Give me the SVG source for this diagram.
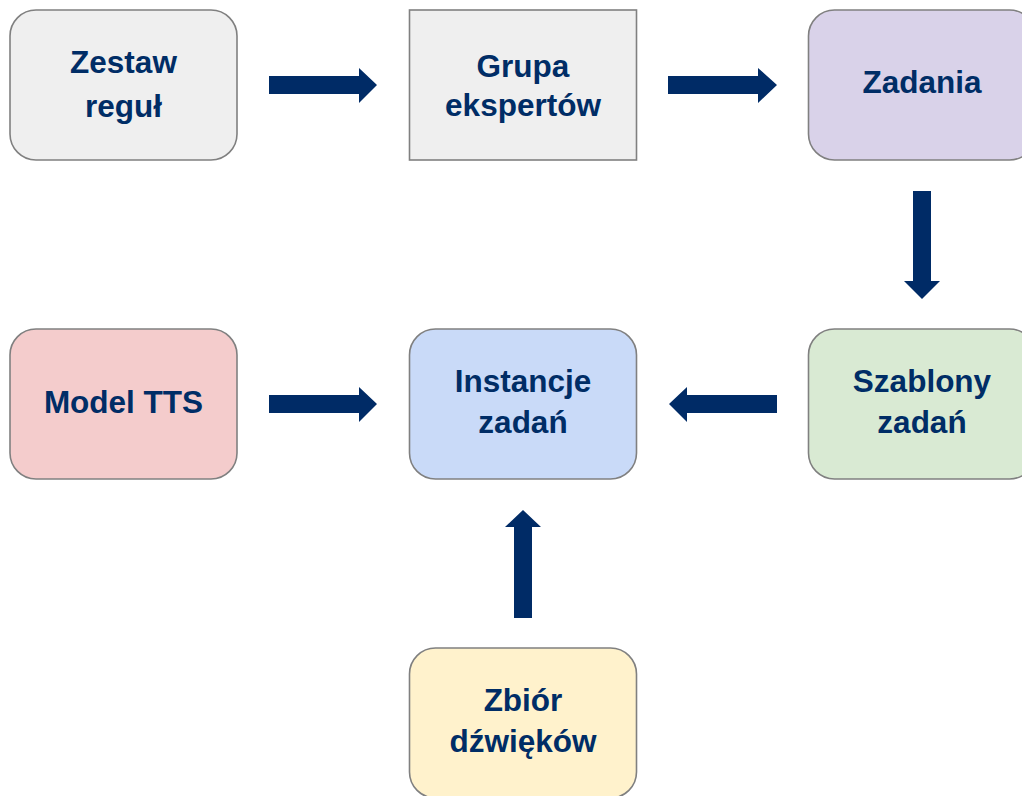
<svg xmlns="http://www.w3.org/2000/svg" width="1022" height="796" viewBox="0 0 1022 796">
<style>
.box{stroke:#808080;stroke-width:1.6}
.t{font-family:"Liberation Sans",Arial,sans-serif;font-weight:bold;font-size:31.5px;fill:#002D66;text-anchor:middle}
.arr{fill:#002B66}
</style>
<rect width="1022" height="796" fill="#ffffff"/>
<g id="zestaw">
<rect class="box" x="10" y="10" width="227" height="150" rx="26" fill="#EFEFEF"/>
<text class="t" x="123.5" y="72.7">Zestaw</text>
<text class="t" x="123.5" y="116.7">reguł</text>
</g>
<g id="grupa">
<rect class="box" x="409.5" y="10" width="227" height="150" fill="#EFEFEF"/>
<text class="t" x="523" y="77">Grupa</text>
<text class="t" x="523" y="116">ekspertów</text>
</g>
<g id="zadania">
<rect class="box" x="808.5" y="10" width="227" height="150" rx="26" fill="#D9D2E9"/>
<text class="t" x="922" y="93.3">Zadania</text>
</g>
<g id="model">
<rect class="box" x="10" y="329" width="227" height="150" rx="26" fill="#F4CCCC"/>
<text class="t" x="123.5" y="412.7">Model TTS</text>
</g>
<g id="instancje">
<rect class="box" x="409.5" y="329" width="227" height="150" rx="26" fill="#C9DAF8"/>
<text class="t" x="523" y="391.7">Instancje</text>
<text class="t" x="523" y="433.3">zadań</text>
</g>
<g id="szablony">
<rect class="box" x="808.5" y="329" width="227" height="150" rx="26" fill="#D9EAD3"/>
<text class="t" x="922" y="391.7">Szablony</text>
<text class="t" x="922" y="433.3">zadań</text>
</g>
<g id="zbior">
<rect class="box" x="409.5" y="648" width="227" height="150" rx="26" fill="#FFF2CC"/>
<text class="t" x="523" y="710.7">Zbiór</text>
<text class="t" x="523" y="751.7">dźwięków</text>
</g>
<g id="connectors">
<polygon class="arr" points="269,76 359,76 359,68 377,85 359,103 359,94 269,94"/>
<polygon class="arr" points="668,76 758,76 758,68 777,85 758,103 758,94 668,94"/>
<polygon class="arr" points="913,191 931,191 931,281 940,281 922,299 904,281 913,281"/>
<polygon class="arr" points="777,395 687,395 687,387 669,404 687,422 687,413 777,413"/>
<polygon class="arr" points="269,395 359,395 359,387 377,404 359,422 359,413 269,413"/>
<polygon class="arr" points="514,618 532,618 532,527 541,527 523,510 505,527 514,527"/>
</g>
</svg>
